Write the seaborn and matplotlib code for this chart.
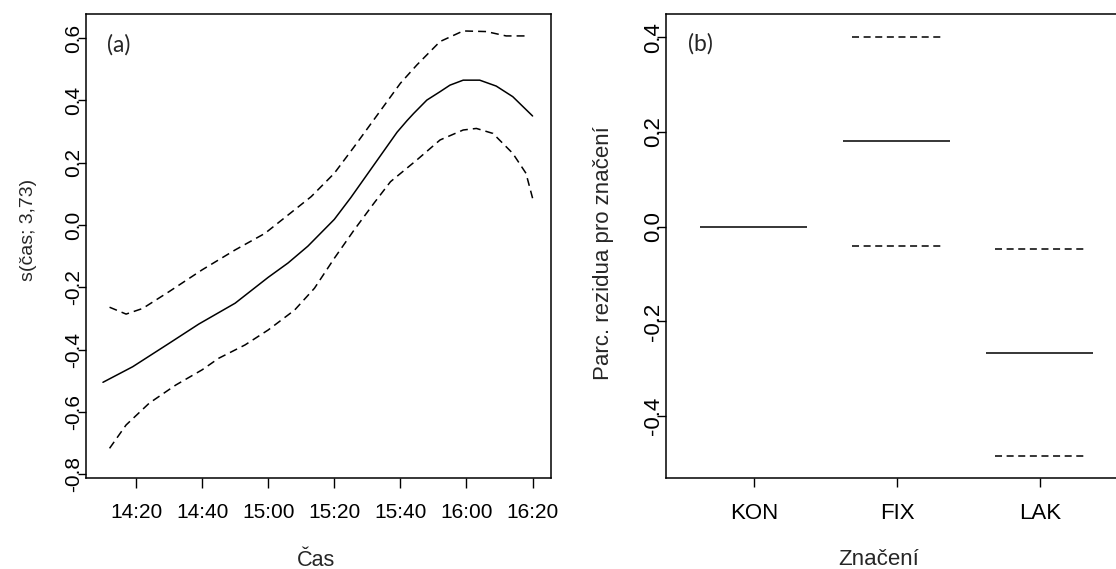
import numpy as np
import pandas as pd
import matplotlib
matplotlib.use("Agg")
import matplotlib.pyplot as plt
from matplotlib.ticker import FixedLocator, FuncFormatter
import seaborn as sns

# ---------------- data: panel (a) ----------------
fit_time = ["14:10", "14:19", "14:30", "14:39", "14:50", "15:00", "15:06", "15:12",
            "15:20", "15:25", "15:31", "15:35", "15:39", "15:42", "15:44", "15:48",
            "15:52", "15:55", "15:59", "16:04", "16:09", "16:14", "16:20"]
fit_value = [-0.505, -0.455, -0.380, -0.318, -0.251, -0.168, -0.122, -0.068,
             0.018, 0.088, 0.178, 0.238, 0.298, 0.335, 0.358, 0.401,
             0.428, 0.449, 0.465, 0.465, 0.446, 0.412, 0.350]

upper_time = ["14:12", "14:17", "14:22", "14:30", "14:40", "14:50", "14:59", "15:06",
              "15:13", "15:20", "15:26", "15:33", "15:40", "15:45", "15:52", "15:59",
              "16:06", "16:12", "16:18"]
upper_value = [-0.264, -0.286, -0.268, -0.214, -0.144, -0.080, -0.027, 0.032,
               0.091, 0.166, 0.251, 0.353, 0.455, 0.514, 0.589, 0.623,
               0.621, 0.607, 0.607]

lower_time = ["14:12", "14:17", "14:24", "14:32", "14:40", "14:45", "14:53", "15:00",
              "15:08", "15:14", "15:20", "15:26", "15:32", "15:37", "15:45", "15:52",
              "15:59", "16:03", "16:08", "16:14", "16:18", "16:20"]
lower_value = [-0.717, -0.642, -0.572, -0.514, -0.465, -0.428, -0.385, -0.337,
               -0.273, -0.203, -0.107, -0.016, 0.070, 0.139, 0.209, 0.273,
               0.305, 0.310, 0.294, 0.230, 0.166, 0.086]

time_ticks = ["14:20", "14:40", "15:00", "15:20", "15:40", "16:00", "16:20"]

# ---------------- data: panel (b) ----------------
groups = ["KON", "FIX", "LAK"]
effect = [0.0, 0.1815, -0.266]
effect_upper = [np.nan, 0.401, -0.047]
effect_lower = [np.nan, -0.0415, -0.483]


def to_min(s):
    h, m = s.split(":")
    return (int(h) - 14) * 60 + int(m)


def fmt_time(v, pos=None):
    v = int(round(v))
    return f"{14 + v // 60}:{v % 60:02d}"


df_a = pd.concat([
    pd.DataFrame({"t": [to_min(s) for s in fit_time], "v": fit_value, "s": "fit"}),
    pd.DataFrame({"t": [to_min(s) for s in upper_time], "v": upper_value, "s": "upper"}),
    pd.DataFrame({"t": [to_min(s) for s in lower_time], "v": lower_value, "s": "lower"}),
], ignore_index=True)

# ---------------- style ----------------
sns.set_style("ticks")
plt.rcParams["font.family"] = ["Liberation Sans", "DejaVu Sans"]
plt.rcParams["axes.edgecolor"] = "black"
plt.rcParams["axes.linewidth"] = 1.1
plt.rcParams["xtick.color"] = "black"
plt.rcParams["ytick.color"] = "black"

W, H = 1116, 569
fig = plt.figure(figsize=(W / 100, H / 100), dpi=100)
fig.patch.set_facecolor("white")

def px_axes(l, r, t, b):
    return [l / W, (H - b) / H, (r - l) / W, (b - t) / H]

ax1 = fig.add_axes(px_axes(86, 550.7, 14, 478.3))
ax2 = fig.add_axes(px_axes(666, 1128, 14, 478.3))

# ---------------- panel (a) ----------------
lw = 1.1
sns.lineplot(data=df_a, x="t", y="v", units="s", estimator=None, sort=False,
             style="s", dashes={"fit": "", "upper": (5.2, 3.3), "lower": (5.2, 3.3)},
             color="black", linewidth=lw, legend=False, ax=ax1)

ax1.set_xlim(4.87, 145.48)
ax1.set_ylim(-0.8132, 0.6774)
ax1.xaxis.set_major_locator(FixedLocator([to_min(s) for s in time_ticks]))
ax1.xaxis.set_major_formatter(FuncFormatter(fmt_time))
ax1.set_yticks([-0.8, -0.6, -0.4, -0.2, 0.0, 0.2, 0.4, 0.6])
ax1.set_yticklabels(["-0.8", "-0.6", "-0.4", "-0.2", "0.0", "0.2", "0.4", "0.6"])
ax1.tick_params(axis="x", length=7, width=1.0, pad=10.5, labelsize=15)
ax1.tick_params(axis="y", length=5.5, width=1.0, pad=-0.6, labelsize=15)
for lbl in ax1.get_yticklabels():
    lbl.set(rotation=90, rotation_mode="anchor", ha="center", va="baseline")

ax1.set_xlabel("Čas", fontsize=15.5)
ax1.xaxis.set_label_coords(0.496, -0.189)
ax1.xaxis.label.set_va("baseline")
ax1.set_ylabel("s(čas; 3,73)", fontsize=14)
ax1.yaxis.set_label_coords(-0.115, 0.535)
ax1.yaxis.label.set_va("baseline")
ax1.text(0.0445, 0.933, "(a)", transform=ax1.transAxes, ha="left", va="center",
         fontsize=16.5, family=["Lato", "DejaVu Sans"])

# ---------------- panel (b) ----------------
pos = np.arange(len(groups))
ax2.hlines(effect, pos - 0.375, pos + 0.37, colors="black", linewidth=lw)
ax2.hlines(effect_upper, pos - 0.315, pos + 0.32, colors="black", linewidth=lw,
           linestyles=[(0, (4.6, 3.0))])
ax2.hlines(effect_lower, pos - 0.315, pos + 0.32, colors="black", linewidth=lw,
           linestyles=[(0, (4.6, 3.0))])

ax2.set_xlim(-0.6154, 2.6154)
ax2.set_ylim(-0.531, 0.449)
ax2.set_xticks(pos)
ax2.set_xticklabels(groups)
ax2.set_yticks([-0.4, -0.2, 0.0, 0.2, 0.4])
ax2.set_yticklabels(["-0.4", "-0.2", "0.0", "0.2", "0.4"])
ax2.tick_params(axis="x", length=6.5, width=1.0, pad=11.0, labelsize=16)
ax2.tick_params(axis="y", length=6.5, width=1.0, pad=-1.8, labelsize=16)
for lbl in ax2.get_yticklabels():
    lbl.set(rotation=90, rotation_mode="anchor", ha="center", va="baseline")

ax2.set_xlabel("Značení", fontsize=16)
ax2.xaxis.set_label_coords(0.461, -0.187)
ax2.xaxis.label.set_va("baseline")
ax2.set_ylabel("Parc. rezidua pro značení", fontsize=16)
ax2.yaxis.set_label_coords(-0.123, 0.486)
ax2.yaxis.label.set_va("baseline")
ax2.text(0.047, 0.936, "(b)", transform=ax2.transAxes, ha="left", va="center",
         fontsize=16.5, family=["Lato", "DejaVu Sans"])

for ax in (ax1, ax2):
    for sp in ax.spines.values():
        sp.set_visible(True)
        sp.set_color("black")
        sp.set_linewidth(1.1)

fig.savefig("out.png", dpi=100, facecolor="white")
